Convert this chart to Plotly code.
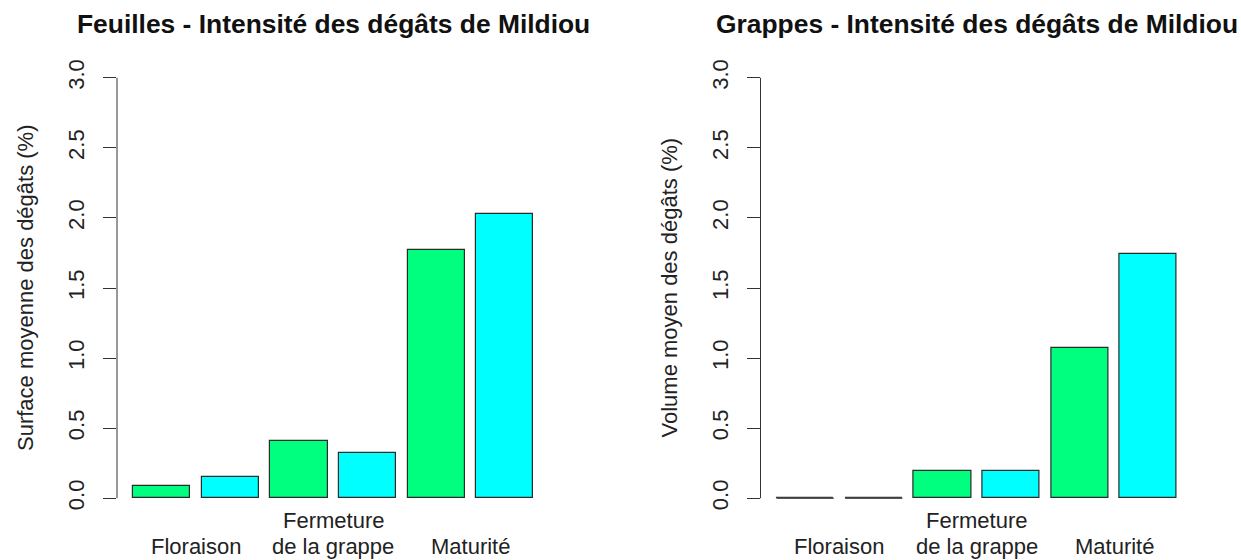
import plotly.graph_objects as go

# Data
stages = ["Floraison", "Fermeture<br>de la grappe", "Maturité"]
feuilles = [0.09, 0.15, 0.41, 0.32, 1.77, 2.03]
grappes = [0.0, 0.0, 0.195, 0.195, 1.07, 1.74]
bar_colors = ["#00FF7F", "#00FFFF"] * 3
titles = ["Feuilles - Intensité des dégâts de Mildiou",
          "Grappes - Intensité des dégâts de Mildiou"]
ytitles = ["Surface moyenne des dégâts (%)", "Volume moyen des dégâts (%)"]
yticks = [0.0, 0.5, 1.0, 1.5, 2.0, 2.5, 3.0]

W, H = 1241, 560
FONT = "Liberation Sans, Arial, sans-serif"

# R barplot geometry: width 1, space 0.2
centers = [0.7 + 1.2 * i for i in range(6)]
group_mid = [(centers[2 * i] + centers[2 * i + 1]) / 2 for i in range(3)]
xrange_ = [0.2 - 0.28, 7.2 + 0.28]
yrange_ = [-0.12, 3.12]

fig = go.Figure()

panels = [("x", "y", feuilles), ("x2", "y2", grappes)]
for xa, ya, vals in panels:
    fig.add_trace(go.Bar(x=centers, y=vals, width=1.0, xaxis=xa, yaxis=ya,
                         marker=dict(color=bar_colors, line=dict(color="#2b2b2b", width=1.2)),
                         showlegend=False, hoverinfo="y"))
    # zero-height bars are drawn by R as a flat outline
    for c, v in zip(centers, vals):
        if v == 0:
            fig.add_trace(go.Scatter(x=[c - 0.5, c + 0.5], y=[0, 0], mode="lines",
                                     xaxis=xa, yaxis=ya, showlegend=False, hoverinfo="skip",
                                     line=dict(color="#555555", width=1.6)))

ydom = [1 - 515 / H, 1 - 61 / H]
xdoms = [[117 / W, 549.5 / W], [760.5 / W, 1193 / W]]

xaxis_common = dict(range=xrange_, showline=False, showgrid=False, zeroline=False,
                    showticklabels=False, ticks="", automargin=False, fixedrange=True)
yaxis_common = dict(range=yrange_, domain=ydom, showline=False, showgrid=False, zeroline=False,
                    ticks="outside", ticklen=13, tickwidth=1, tickcolor="#333",
                    tickmode="array", tickvals=yticks, ticktext=[f"{t:.1f}" for t in yticks],
                    tickangle=-90, ticklabelstandoff=10, automargin=False,
                    tickfont=dict(family=FONT, size=22, color="#222"), fixedrange=True)

fig.update_layout(
    width=W, height=H,
    margin=dict(l=0, r=0, t=0, b=0, autoexpand=False),
    paper_bgcolor="white", plot_bgcolor="white",
    bargap=0,
    xaxis=dict(xaxis_common, domain=xdoms[0], anchor="y"),
    yaxis=dict(yaxis_common, anchor="x"),
    xaxis2=dict(xaxis_common, domain=xdoms[1], anchor="y2"),
    yaxis2=dict(yaxis_common, anchor="x2"),
)

for i, (xa, ya) in enumerate([("x", "y"), ("x2", "y2")]):
    # y axis line only spans the tick range, as in base R
    fig.add_shape(type="line", xref=f"{xa} domain", yref=ya, x0=0, x1=0,
                  y0=yticks[0], y1=yticks[-1], line=dict(color="#333", width=1))
    fig.add_annotation(text="<b>" + titles[i] + "</b>", xref="paper", yref="paper",
                       x=sum(xdoms[i]) / 2, y=1 - 24 / H, xanchor="center", yanchor="middle",
                       showarrow=False, font=dict(family=FONT, size=26.4, color="#111"))
    fig.add_annotation(text=ytitles[i], xref="paper", yref="paper", textangle=-90,
                       x=(25 + i * 643.5) / W, y=sum(ydom) / 2, xanchor="center", yanchor="middle",
                       showarrow=False, font=dict(family=FONT, size=22, color="#222"))
    # category labels, bottom-aligned lines like R's axis names
    for mid, stage in zip(group_mid, stages):
        for j, line in enumerate(reversed(stage.split("<br>"))):
            fig.add_annotation(text=line, xref=xa, yref="paper", x=mid,
                               y=1 - (546 - 26 * j) / H, xanchor="center", yanchor="middle",
                               showarrow=False, font=dict(family=FONT, size=22, color="#222"))

fig.write_html("out.html", config={"displayModeBar": False},
               post_script="document.body.style.margin='0';")
